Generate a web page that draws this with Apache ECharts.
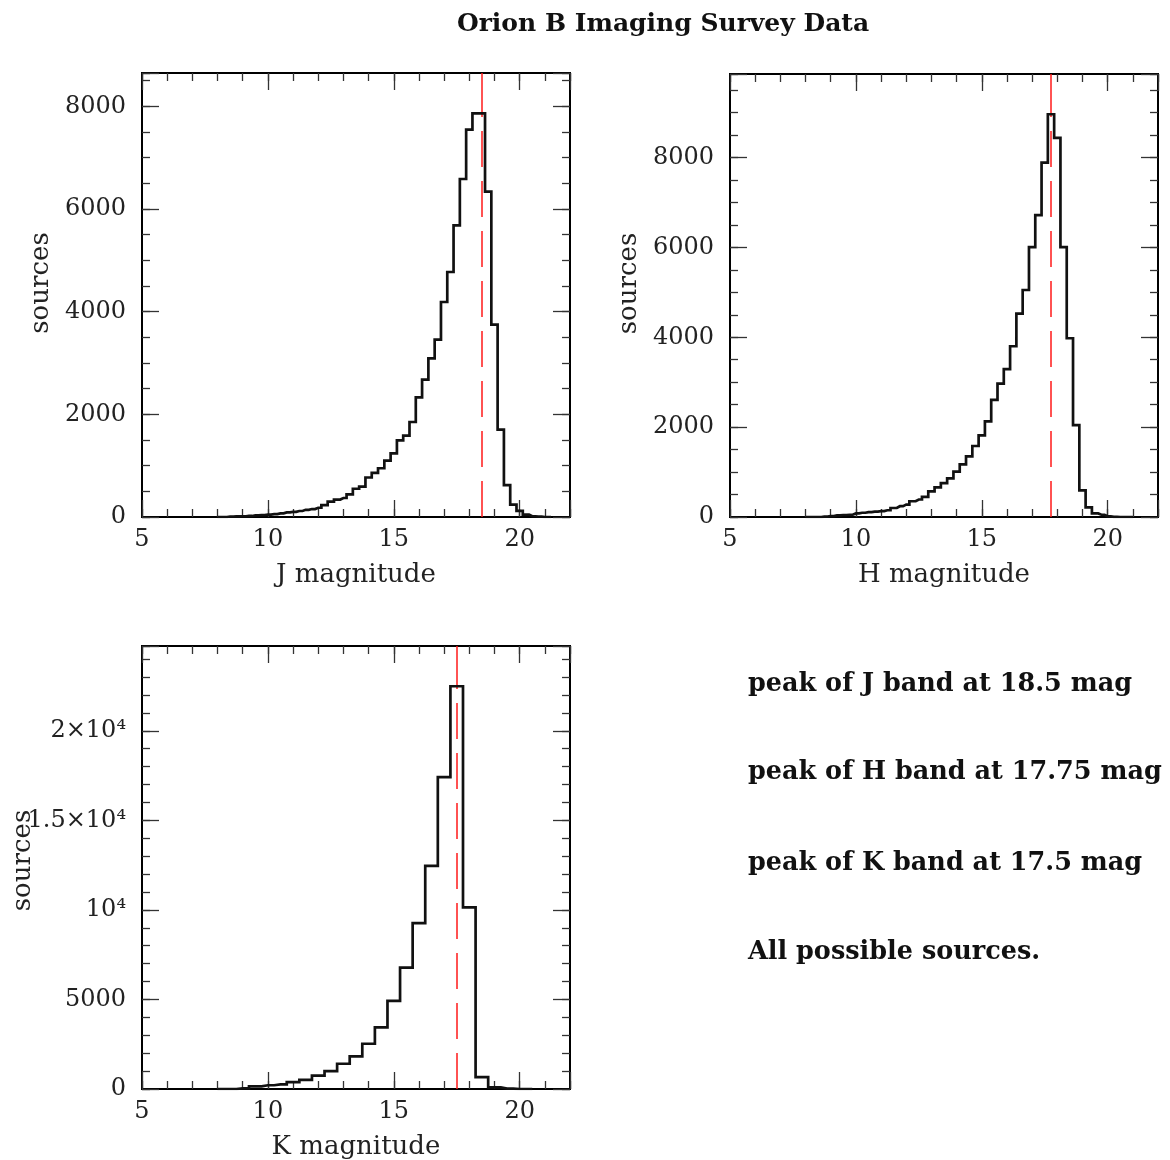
<!DOCTYPE html>
<html><head><meta charset="utf-8">
<script src="https://cdn.jsdelivr.net/npm/echarts@6/dist/echarts.min.js"></script>
<style>html,body{margin:0;padding:0;background:#fff}#c{width:1170px;height:1160px}</style>
</head><body><div id="c"></div><script>
// ---- data ----
const TITLE = 'Orion B Imaging Survey Data';
const J_MAG = [8.0,8.25,8.5,8.75,9.0,9.25,9.5,9.75,10.0,10.25,10.5,10.75,11.0,11.25,11.5,11.75,12.0,12.25,12.5,12.75,13.0,13.25,13.5,13.75,14.0,14.25,14.5,14.75,15.0,15.25,15.5,15.75,16.0,16.25,16.5,16.75,17.0,17.25,17.5,17.75,18.0,18.25,18.5,18.75,19.0,19.25,19.5,19.75,20.0,20.25,20.5,20.75,21.0,21.25];
const J_COUNTS = [0,0,10,12,15,20,30,35,45,55,70,90,100,117,140,155,180,230,300,340,370,440,550,590,770,860,950,1100,1240,1494,1585,1851,2331,2676,3091,3455,4189,4773,5682,6585,7546,7864,7864,6338,3747,1701,620,240,120,45,15,8,0,0];
const H_MAG = [8.0,8.25,8.5,8.75,9.0,9.25,9.5,9.75,10.0,10.25,10.5,10.75,11.0,11.25,11.5,11.75,12.0,12.25,12.5,12.75,13.0,13.25,13.5,13.75,14.0,14.25,14.5,14.75,15.0,15.25,15.5,15.75,16.0,16.25,16.5,16.75,17.0,17.25,17.5,17.75,18.0,18.25,18.5,18.75,19.0,19.25,19.5,19.75,20.0,20.25,20.5,20.75,21.0];
const H_COUNTS = [0,0,0,10,20,35,45,50,80,95,110,120,130,150,200,240,275,350,390,450,570,660,755,860,1010,1170,1350,1580,1815,2126,2607,2970,3289,3800,4526,5052,6007,6718,7888,8963,8437,6007,3978,2044,593,215,80,50,15,5,0,0,0];
const K_MAG = [8.0,8.5,9.0,9.5,10.0,10.5,11.0,11.5,12.0,12.5,13.0,13.5,14.0,14.5,15.0,15.5,16.0,16.5,17.0,17.5,18.0,18.5,19.0,19.5,20.0,20.5];
const K_COUNTS = [0,0,37,150,210,260,380,510,750,1000,1411,1820,2525,3435,4920,6777,9265,12458,17416,22484,10138,668,93,20,0,0];
const PEAKS = [18.5, 17.75, 17.5];
const X_LABELS = ['5','10','15','20'];
const K_Y_LABELS = ['0','5000','10\u2074','1.5\u00d710\u2074','2\u00d710\u2074'];
const NOTES = ['peak of J band at 18.5 mag','peak of H band at 17.75 mag','peak of K band at 17.5 mag','All possible sources.'];

const SERIF = '"DejaVu Serif", "Liberation Serif", serif';
const TXT = '#222';

const panels = [
  {name:'J magnitude', mag:J_MAG, counts:J_COUNTS, peak:PEAKS[0], left:142, top:73, width:428, height:444, yInt:2000, yMin:500, yLabels:null, yGap:88, yShift:24},
  {name:'H magnitude', mag:H_MAG, counts:H_COUNTS, peak:PEAKS[1], left:730, top:74, width:428, height:443, yInt:2000, yMin:500, yLabels:null, yGap:88, yShift:24},
  {name:'K magnitude', mag:K_MAG, counts:K_COUNTS, peak:PEAKS[2], left:142, top:646, width:428, height:443, yInt:5000, yMin:1000, yLabels:K_Y_LABELS, yGap:106, yShift:14}
];

const grid = [], xAxis = [], yAxis = [], series = [];
const tickStyle = {color:'#333', width:1.3};
const labelStyle = {fontFamily:SERIF, fontSize:24, color:TXT};

panels.forEach((p, i) => {
  const ymax = Math.round(1.1 * Math.max(...p.counts));
  grid.push({left:p.left, top:p.top, width:p.width, height:p.height, containLabel:false, outerBoundsMode:'none',
    show:true, borderColor:'#000', borderWidth:2, backgroundColor:'transparent'});
  const xBase = {gridIndex:i, type:'value', min:5, max:22, splitLine:{show:false}, axisLine:{show:false, onZero:false}};
  xAxis.push(Object.assign({}, xBase, {position:'bottom', interval:5,
    axisTick:{inside:true, length:17, lineStyle:tickStyle},
    axisLabel:{show:true, margin:11, ...labelStyle, formatter:v => (v % 5 === 0 ? X_LABELS[(v-5)/5] || '' : '')},
    name:p.name, nameLocation:'middle', nameGap:45, nameMoveOverlap:false, nameTextStyle:{fontFamily:SERIF, fontSize:26, color:TXT}}));
  xAxis.push(Object.assign({}, xBase, {position:'bottom', interval:1, axisTick:{inside:true, length:8, lineStyle:tickStyle}, axisLabel:{show:false}}));
  xAxis.push(Object.assign({}, xBase, {position:'top', interval:5, axisTick:{inside:true, length:17, lineStyle:tickStyle}, axisLabel:{show:false}}));
  xAxis.push(Object.assign({}, xBase, {position:'top', interval:1, axisTick:{inside:true, length:8, lineStyle:tickStyle}, axisLabel:{show:false}}));

  const yBase = {gridIndex:i, type:'value', min:0, max:ymax, splitLine:{show:false}, axisLine:{show:false, onZero:false}};
  const yFmt = p.yLabels
    ? (v => { const k = Math.round(v / p.yInt); return (Math.abs(v - k*p.yInt) < 1e-6 && p.yLabels[k] !== undefined) ? p.yLabels[k] : ''; })
    : (v => (v % p.yInt === 0 ? String(v) : ''));
  yAxis.push(Object.assign({}, yBase, {position:'left', interval:p.yInt,
    axisTick:{inside:true, length:17, lineStyle:tickStyle},
    axisLabel:{show:true, margin:16, ...labelStyle, formatter:yFmt},
    name:'sources', nameLocation:'middle', nameGap:p.yGap, nameMoveOverlap:false,
    nameTextStyle:{fontFamily:SERIF, fontSize:26, color:TXT, padding:[0,0,0,p.yShift]}}));
  yAxis.push(Object.assign({}, yBase, {position:'left', interval:p.yMin, axisTick:{inside:true, length:8, lineStyle:tickStyle}, axisLabel:{show:false}}));
  yAxis.push(Object.assign({}, yBase, {position:'right', interval:p.yInt, axisTick:{inside:true, length:17, lineStyle:tickStyle}, axisLabel:{show:false}}));
  yAxis.push(Object.assign({}, yBase, {position:'right', interval:p.yMin, axisTick:{inside:true, length:8, lineStyle:tickStyle}, axisLabel:{show:false}}));

  const peakCount = Math.max(...p.counts);
  series.push({
    type:'line', step:'middle', xAxisIndex:4*i, yAxisIndex:4*i,
    data:p.mag.map((m, k) => [m, p.counts[k]]),
    showSymbol:false, symbol:'none', silent:true, z:3,
    lineStyle:{color:'#111', width:2.7, join:'miter', cap:'butt'},
    markLine:{silent:true, symbol:['none','none'], label:{show:false}, animation:false, z:2,
      data:[
        [{coord:[p.peak, 0], lineStyle:{color:'#ff1a1a', width:1.5, type:[36,14]}}, {coord:[p.peak, peakCount]}],
        [{coord:[p.peak, peakCount], lineStyle:{color:'#ff1a1a', width:1.5, type:'solid'}}, {coord:[p.peak, ymax]}]
      ]}
  });
});

const graphic = [
  {type:'text', x:663, y:24, style:{text:TITLE, fontFamily:SERIF, fontSize:25, fontWeight:'bold', fill:'#111', align:'center', verticalAlign:'middle'}}
];
const noteY = [684, 772, 863, 952];
NOTES.forEach((t, k) => graphic.push({type:'text', x:748, y:noteY[k],
  style:{text:t, fontFamily:SERIF, fontSize:25.5, fontWeight:'bold', fill:'#111', align:'left', verticalAlign:'middle'}}));

const chart = echarts.init(document.getElementById('c'), null, {renderer:'canvas'});
chart.setOption({animation:false, backgroundColor:'#fff', grid, xAxis, yAxis, series, graphic});
</script></body></html>
